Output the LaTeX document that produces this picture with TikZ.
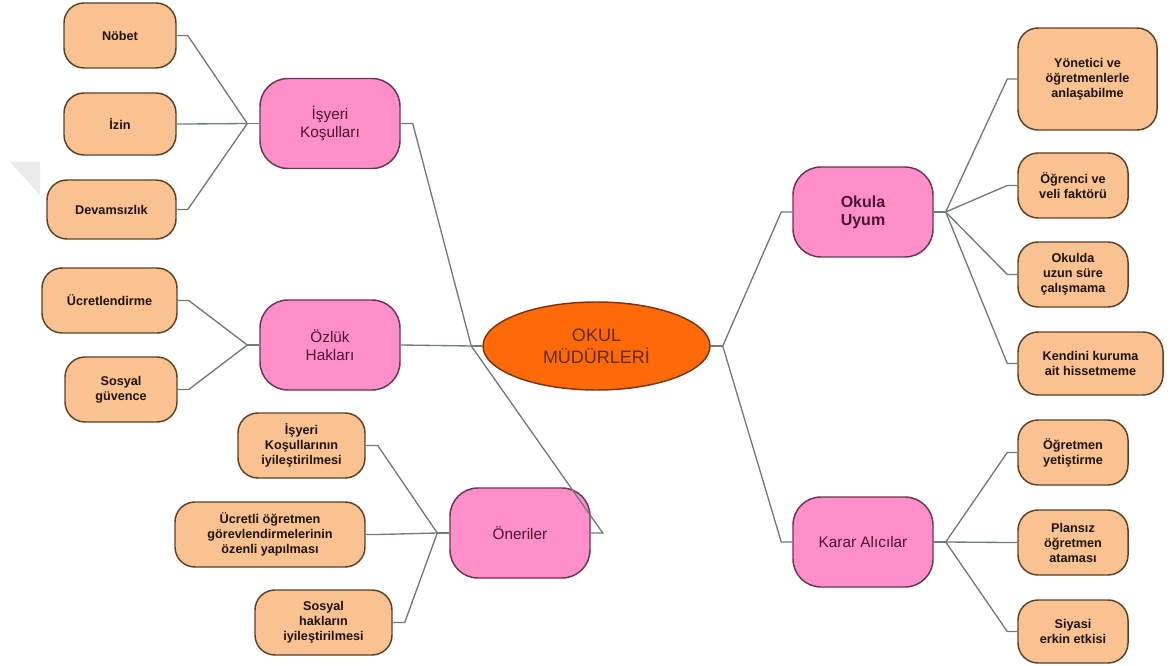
\documentclass[tikz,border=0pt]{standalone}
\usepackage{fontspec}
\setmainfont{Liberation Sans}
\usetikzlibrary{shapes.geometric,calc}
\definecolor{leaffill}{HTML}{FAC291}
\definecolor{leafline}{HTML}{5A4226}
\definecolor{pinkfill}{HTML}{FF8FC9}
\definecolor{pinkline}{HTML}{6A3552}
\definecolor{pinktext}{HTML}{4A1535}
\definecolor{okulfill}{HTML}{FF6A08}
\definecolor{okulline}{HTML}{7A3410}
\definecolor{linkgray}{HTML}{6F7B7B}

\begin{document}
\begin{tikzpicture}[x=0.75pt,y=0.75pt,yscale=-1,xscale=1,
	sz/.style 2 args={minimum width=#1*0.75pt,minimum height=#2*0.75pt},
	leaf/.style={draw=leafline,fill=leaffill,line width=1.1pt,rounded corners=15pt,
		inner sep=0pt,align=center,text=black!85!brown,
		font=\fontsize{9.5}{11.25}\selectfont\bfseries},
	topic/.style={draw=pinkline,fill=pinkfill,line width=1.1pt,rounded corners=21pt,
		inner sep=0pt,align=center,text=pinktext,sz={140}{90},
		font=\fontsize{11.5}{13.3}\selectfont},
	link/.style={draw=linkgray,line width=1pt}]
	\useasboundingbox (0,0) rectangle (1170,666);
	
	% faint mark at the left edge
	\fill[black!8] (10,162) -- (40,162) -- (40,195) -- cycle;
	
	%Centre
	\node [ellipse,draw=okulline,fill=okulfill,line width=1.1pt,sz={227}{88},inner sep=0pt,
		align=center,text=okulline!80!black,font=\fontsize{13.5}{16.5}\selectfont] (okul) at (596.5,346) {OKUL\\MÜDÜRLERİ};
	
	%Main topics
	\node [topic] (isyeri) at (330,123.5) {İşyeri\\Koşulları};
	\node [topic] (ozluk) at (330,345) {Özlük\\Hakları};
	\node [topic] (oneri) at (520,533) {Öneriler};
	\node [topic,font=\fontsize{12}{13.3}\selectfont\bfseries] (uyum) at (863,212) {Okula\\Uyum};
	\node [topic] (karar) at (863,542) {Karar Alıcılar};
	
	%Leaves, left
	\node [leaf,sz={112}{65}] (nobet) at (120,35.5) {Nöbet};
	\node [leaf,sz={112}{62}] (izin) at (120,124) {İzin};
	\node [leaf,sz={129}{59}] (devam) at (111.5,209.5) {Devamsızlık};
	\node [leaf,sz={135}{65}] (ucret) at (109.5,300.5) {Ücretlendirme};
	\node [leaf,sz={112}{65}] (guvence) at (121,389.5) {Sosyal\\güvence};
	\node [leaf,sz={127}{65}] (isykos) at (301.5,445.5) {İşyeri\\Koşullarının\\iyileştirilmesi};
	\node [leaf,sz={190}{65}] (ucretli) at (270,534.5) {Ücretli öğretmen\\görevlendirmelerinin\\özenli yapılması};
	\node [leaf,sz={137}{65}] (sosyhak) at (323.5,622.5) {Sosyal\\hakların\\iyileştirilmesi};
	
	%Leaves, right
	\node [leaf,sz={139}{102}] (yonetici) at (1087.5,79) {Yönetici ve\\öğretmenlerle\\anlaşabilme};
	\node [leaf,sz={110}{65}] (ogrenci) at (1073,185.5) {Öğrenci ve\\veli faktörü};
	\node [leaf,sz={110}{65}] (okulda) at (1073,274.5) {Okulda\\uzun süre\\çalışmama};
	\node [leaf,sz={145}{63}] (kendini) at (1090.5,363.5) {Kendini kuruma\\ait hissetmeme};
	\node [leaf,sz={110}{65}] (ogretmen) at (1073,452.5) {Öğretmen\\yetiştirme};
	\node [leaf,sz={110}{65}] (plansiz) at (1073,542.5) {Plansız\\öğretmen\\ataması};
	\node [leaf,sz={110}{63}] (siyasi) at (1073,631.5) {Siyasi\\erkin etkisi};
	
	%Junctions
	\draw [link] (okul.west) -- ++(-11,0) coordinate (jokl);
	\draw [link] (okul.east) -- ++(12,0) coordinate (jokr);
	\draw [link] (isyeri.west) -- ++(-12,0) coordinate (jisy);
	\draw [link] (ozluk.west) -- ++(-12,0) coordinate (jozl);
	\draw [link] (oneri.west) -- ++(-12,0) coordinate (jone);
	\draw [link] (uyum.east) -- ++(12,0) coordinate (juyu);
	\draw [link] (karar.east) -- ++(12,0) coordinate (jkar);
	
	%Centre to topics
	\draw [link] (jokl) -- ($(isyeri.east)+(12,0)$) -- (isyeri.east);
	\draw [link] (jokl) -- (ozluk.east);
	\draw [link] (jokl) -- ($(oneri.east)+(12,0)$) -- (oneri.east);
	\draw [link] (jokr) -- ($(uyum.west)+(-11,0)$) -- (uyum.west);
	\draw [link] (jokr) -- ($(karar.west)+(-11,0)$) -- (karar.west);
	
	%Topics to leaves
	\foreach \c in {nobet,izin,devam}
		\draw [link] (\c.east) -- ++(11,0) -- (jisy);
	\foreach \c in {ucret,guvence}
		\draw [link] (\c.east) -- ++(11,0) -- (jozl);
	\foreach \c in {isykos,ucretli,sosyhak}
		\draw [link] (\c.east) -- ++(12,0) -- (jone);
	\foreach \c in {yonetici,ogrenci,okulda,kendini}
		\draw [link] (\c.west) -- ++(-10,0) -- (juyu);
	\foreach \c in {ogretmen,plansiz,siyasi}
		\draw [link] (\c.west) -- ++(-10,0) -- (jkar);
	
\end{tikzpicture}
\end{document}
